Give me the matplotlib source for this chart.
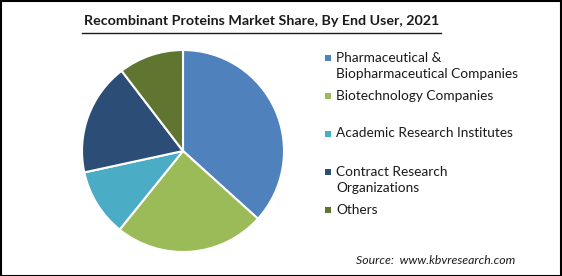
import matplotlib.pyplot as plt
from matplotlib.patches import Rectangle
from matplotlib.lines import Line2D

# data
labels = [
    "Pharmaceutical &\nBiopharmaceutical Companies",
    "Biotechnology Companies",
    "Academic Research Institutes",
    "Contract Research\nOrganizations",
    "Others",
]
shares = [36.7, 24.1, 10.8, 18.0, 10.4]
colors = ["#4F81BD", "#9BBB59", "#4BACC6", "#2C4D75", "#5F7530"]
title = "Recombinant Proteins Market Share, By End User, 2021"
source = "Source:  www.kbvresearch.com"

W, H = 562, 276
fig = plt.figure(figsize=(W / 100, H / 100), dpi=100)
fig.patch.set_facecolor("white")

# pie axes: center ~ (183,151), radius ~101 px
r = 101
cx, cy = 183, 151
ax = fig.add_axes([(cx - r) / W, 1 - (cy + r) / H, 2 * r / W, 2 * r / H])
ax.pie(shares, colors=colors, startangle=90, counterclock=False,
       wedgeprops=dict(edgecolor="white", linewidth=1.5))
ax.set_aspect("auto")
ax.set_xlim(-1, 1)
ax.set_ylim(-1, 1)
ax.axis("off")

font = "Lato"

# title with underline
fig.text(261.5 / W, 1 - 21 / H, title, ha="center", va="center",
         fontsize=10.3, fontweight="bold", family=font, color="#1a1a1a")
fig.add_artist(Line2D([82 / W, 441 / W], [1 - 32.5 / H, 1 - 32.5 / H],
                      color="#1a1a1a", lw=1.0, transform=fig.transFigure))

# legend
ys = [58, 96, 134, 172, 210]
for lab, col, y in zip(labels, colors, ys):
    fig.add_artist(Rectangle((325 / W, 1 - (y + 3) / H), 6 / W, 6 / H,
                             facecolor=col, edgecolor="none",
                             transform=fig.transFigure))
    fig.text(336 / W, 1 - (y - 6.5) / H, lab, ha="left", va="top",
             fontsize=9.8, family=font, color="#1a1a1a", linespacing=1.42)

fig.text(515 / W, 1 - 260 / H, source, ha="right", va="center",
         fontsize=8.8, style="italic", family=font, color="#1a1a1a")

# outer frame
fig.add_artist(Rectangle((0.5 / W, 0.5 / H), 1 - 1.5 / W, 1 - 1.5 / H,
                         fill=False, edgecolor="black", lw=1.5,
                         transform=fig.transFigure))

fig.savefig("out.png", dpi=100)
